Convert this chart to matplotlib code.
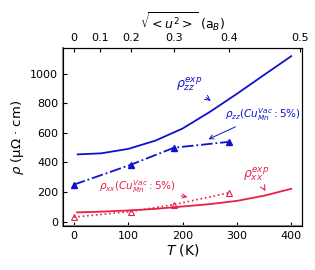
import numpy as np
import matplotlib.pyplot as plt

# experimental curves
T_zz_exp = [7, 50, 100, 150, 200, 250, 300, 350, 400]
rho_zz_exp = [455, 462, 492, 548, 630, 742, 865, 993, 1120]
T_xx_exp = [6, 50, 100, 150, 200, 250, 300, 350, 400]
rho_xx_exp = [62, 67, 75, 86, 102, 118, 140, 175, 222]

# calculated points (Cu_Mn vacancies 5%)
T_calc = [0, 105, 184, 286]
rho_zz_calc = [250, 385, 500, 540]
rho_xx_calc = [30, 68, 115, 195]

# top axis: sqrt(<u^2>) ticks and their T positions
u_labels = ['0', '0.1', '0.2', '0.3', '0.4', '0.5']
u_T_pos = [0, 48, 105, 184, 286, 417]

blue = '#1010d0'
red = '#e8204a'

fig = plt.figure(figsize=(3.15, 2.7), dpi=100)
ax = fig.add_axes([0.2, 0.163, 0.759, 0.659])

ax.plot(T_zz_exp, rho_zz_exp, color=blue, lw=1.3)
ax.plot(T_calc, rho_zz_calc, color=blue, lw=1.3, ls='-.', marker='^', ms=4)
ax.plot(T_xx_exp, rho_xx_exp, color=red, lw=1.3)
ax.plot(T_calc, rho_xx_calc, color=red, lw=1.2, ls=':', marker='^', ms=4,
        mfc='none', mew=0.8)

ax.set_xlim(-20, 420)
ax.set_ylim(-30, 1175)
ax.set_xticks([0, 100, 200, 300, 400])
ax.set_yticks([0, 200, 400, 600, 800, 1000])
ax.tick_params(direction='in', labelsize=8, length=3)
ax.set_xlabel(r'$T$ (K)', fontsize=10, labelpad=1)
ax.set_ylabel(r'$\rho$ (μΩ · cm)', fontsize=9.5, labelpad=3)
ax.spines['left'].set_color('#888888')
ax.spines['left'].set_linewidth(1.5)
ax.spines['bottom'].set_color('#888888')
ax.spines['bottom'].set_linewidth(1.5)

ax2 = ax.twiny()
ax2.set_xlim(ax.get_xlim())
ax2.set_xticks(u_T_pos)
ax2.set_xticklabels(u_labels)
ax2.tick_params(direction='in', labelsize=8, length=3)
ax2.set_xlabel(r'$\sqrt{<u^2>}$ (a$_B$)', fontsize=9, labelpad=3)

aprops = dict(arrowstyle='->', lw=0.7)
ax.annotate(r'$\rho_{zz}^{exp}$', xy=(256, 805), xytext=(212, 930),
            color=blue, fontsize=9, ha='center', va='center',
            arrowprops=dict(color=blue, **aprops))
ax.annotate(r'$\rho_{zz}(Cu_{Mn}^{Vac}:5\%)$', xy=(243, 550), xytext=(347, 725),
            color=blue, fontsize=7.5, ha='center', va='center',
            arrowprops=dict(color=blue, **aprops))
ax.annotate(r'$\rho_{xx}^{exp}$', xy=(355, 190), xytext=(335, 320),
            color=red, fontsize=9, ha='center', va='center',
            arrowprops=dict(color=red, **aprops))
ax.annotate(r'$\rho_{xx}(Cu_{Mn}^{Vac}:5\%)$', xy=(214, 162), xytext=(117, 238),
            color=red, fontsize=7.5, ha='center', va='center',
            arrowprops=dict(color=red, **aprops))

fig.savefig('out.png', dpi=100)
